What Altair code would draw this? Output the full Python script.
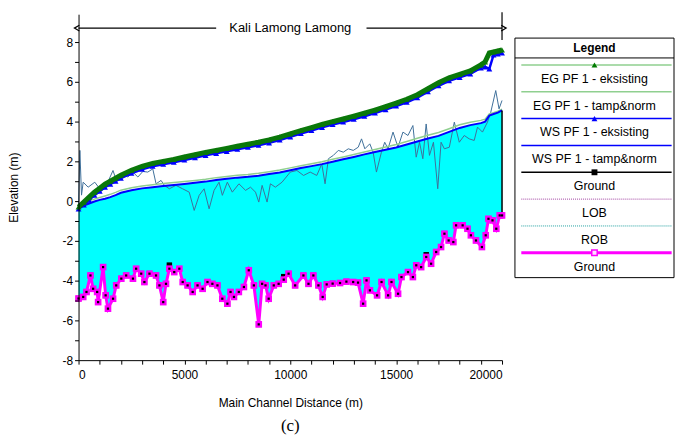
import altair as alt
import pandas as pd

FONT = "Liberation Sans"

# ---------------- data ----------------
dist = [0, 250, 500, 750, 1000, 1250, 1500, 1750, 2000, 2500, 3000, 3500, 4000, 4500,
        5000, 5500, 6000, 6500, 7000, 7500, 8000, 8500, 9000, 9500, 10000, 10500, 11000,
        11500, 12000, 12500, 13000, 13500, 14000, 14500, 15000, 15500, 16000, 16500,
        17000, 17500, 18000, 18500, 19000, 19200, 19400, 19600, 19800, 20000]
eg_eks = [-0.3, -0.05, 0.2, 0.45, 0.65, 0.85, 1.0, 1.15, 1.3, 1.55, 1.75, 1.9, 2.0, 2.1,
          2.22, 2.33, 2.45, 2.55, 2.65, 2.76, 2.86, 2.96, 3.08, 3.22, 3.38, 3.55, 3.7,
          3.86, 4.0, 4.13, 4.27, 4.42, 4.58, 4.75, 4.93, 5.12, 5.35, 5.65, 5.95, 6.2,
          6.37, 6.55, 6.85, 7.0, 7.45, 7.5, 7.55, 7.6]
ws_eks = [-0.4, -0.2, 0.05, 0.3, 0.5, 0.7, 0.85, 1.0, 1.15, 1.4, 1.6, 1.75, 1.85, 1.95,
          2.07, 2.18, 2.3, 2.4, 2.5, 2.61, 2.71, 2.81, 2.93, 3.07, 3.23, 3.4, 3.55, 3.71,
          3.85, 3.98, 4.12, 4.27, 4.43, 4.6, 4.78, 4.97, 5.2, 5.5, 5.8, 6.05, 6.22, 6.4,
          6.7, 6.75, 6.65, 7.35, 7.4, 7.45]
ws_tamp = [-0.3, -0.22, -0.12, -0.02, 0.06, 0.12, 0.2, 0.3, 0.42, 0.55, 0.64, 0.7, 0.76,
           0.81, 0.86, 0.92, 0.98, 1.06, 1.12, 1.18, 1.22, 1.28, 1.36, 1.44, 1.55, 1.66,
           1.76, 1.86, 1.98, 2.1, 2.22, 2.35, 2.47, 2.58, 2.7, 2.85, 3.0, 3.15, 3.28,
           3.48, 3.68, 3.82, 3.92, 4.0, 4.3, 4.38, 4.45, 4.56]
eg_tamp = [-0.25, -0.12, 0.0, 0.1, 0.18, 0.26, 0.34, 0.44, 0.55, 0.67, 0.76, 0.82, 0.88,
           0.93, 0.98, 1.04, 1.1, 1.18, 1.24, 1.3, 1.34, 1.4, 1.48, 1.56, 1.67, 1.78,
           1.88, 1.98, 2.1, 2.22, 2.34, 2.47, 2.6, 2.72, 2.85, 3.0, 3.16, 3.31, 3.45,
           3.64, 3.84, 3.97, 4.06, 4.12, 4.38, 4.45, 4.52, 4.62]

ground_dist = [0, 220, 375, 563, 690, 880, 925, 1160, 1280, 1390, 1630, 1780, 2020, 2250,
               2570, 2720, 2960, 3110, 3350, 3660, 3820, 4000, 4130, 4290, 4520, 4760,
               4920, 5150, 5390, 5620, 5860, 6090, 6320, 6560, 6790, 7030, 7180, 7340,
               7570, 7810, 8040, 8280, 8510, 8670, 8830, 8980, 9220, 9450, 9690, 9920,
               10230, 10620, 10860, 11090, 11330, 11530, 11720, 12000, 12350, 12650,
               12970, 13200, 13440, 13600, 13760, 14100, 14310, 14620, 14780, 15090,
               15250, 15560, 15790, 15950, 16180, 16420, 16650, 16890, 17120, 17280,
               17480, 17700, 17830, 18140, 18370, 18530, 18770, 19050, 19230, 19360,
               19550, 19730, 19890, 20000]
ground_tamp = [-4.9, -4.82, -4.57, -3.74, -4.41, -4.57, -5.08, -3.32, -4.74, -5.41, -4.91,
               -4.24, -3.9, -3.74, -3.9, -3.4, -3.65, -4.07, -3.65, -3.74, -4.24, -5.08,
               -4.16, -3.4, -3.57, -3.4, -4.07, -4.24, -4.57, -4.24, -4.41, -4.07, -4.16,
               -4.24, -4.91, -5.16, -4.57, -4.82, -4.57, -4.32, -3.48, -4.24, -6.2, -4.16,
               -4.24, -4.91, -4.24, -4.16, -3.95, -3.65, -4.24, -3.74, -4.16, -3.74, -4.24,
               -4.82, -4.19, -4.15, -4.12, -4.05, -4.07, -4.1, -5.16, -3.99, -4.49, -4.74,
               -4.07, -4.74, -4.07, -4.66, -3.82, -3.57, -3.82, -3.23, -3.32, -2.81, -3.15,
               -2.56, -2.31, -1.64, -1.98, -2.06, -1.22, -1.22, -1.39, -1.72, -1.98, -2.31,
               -1.72, -0.89, -0.97, -1.39, -0.72, -0.72]
# existing ground: same as above except where it shows above the magenta line
ground_eks_changes = {4290: -3.22, 9690: -3.8, 16420: -2.7}

bank_dist = [0, 63, 141, 219, 454, 767, 1002, 1315, 1628, 1784, 2097, 2332, 2567, 2802,
             3036, 3271, 3506, 3662, 3897, 4053, 4288, 4601, 4914, 5227, 5462, 5697, 5931,
             6166, 6401, 6636, 6792, 7027, 7262, 7575, 7888, 8122, 8357, 8513, 8670, 8904,
             9061, 9296, 9609, 10000, 10313, 10626, 10939, 11252, 11487, 11643, 11800,
             12034, 12269, 12504, 12739, 12974, 13208, 13365, 13521, 13756, 13913, 14069,
             14304, 14460, 14617, 14852, 15086, 15321, 15556, 15791, 15947, 16104, 16260,
             16417, 16573, 16761, 16964, 17121, 17277, 17512, 17747, 17982, 18216, 18451,
             18686, 18842, 19077, 19312, 19468, 19703, 19859, 20000]
bank_elev = [-0.2, 2.55, 0.3, 0.95, 0.7, 0.95, 0.62, 0.79, 1.54, 1.04, 1.37, 1.21, 1.46,
             1.21, 1.49, 1.46, 1.62, 0.87, 1.04, 0.79, 0.62, 0.79, 0.62, 0.45, -0.47, 0.29,
             0.62, -0.39, 0.54, 0.95, 0.29, 0.95, 0.45, 0.87, 0.54, 0.7, 0.45, -0.05, 0.79,
             -0.05, 0.87, 0.7, 0.95, 1.46, 1.54, 1.29, 1.46, 1.29, 1.87, 0.87, 2.13, 2.3,
             2.55, 2.46, 2.63, 2.55, 2.71, 3.13, 2.63, 2.88, 2.46, 1.46, 2.46, 2.96, 2.63,
             3.47, 2.71, 3.47, 3.3, 3.8, 2.21, 2.96, 2.13, 3.88, 2.3, 2.96, 0.62, 2.96,
             2.63, 2.71, 3.97, 2.96, 3.3, 3.13, 3.05, 3.72, 3.47, 3.97, 4.47, 5.56, 4.64,
             5.06]

x_ticks = list(range(0, 20001, 1000))
y_ticks = list(range(-8, 9))
x_domain = [0, 20000]
y_domain = [-8, 9.4]

reach_name = "Kali Lamong Lamong"
reach_start, reach_end = 0, 20000
reach_label_gap = [6500, 13600]
reach_level = 8.7
reach_bar = [8.1, 9.5]

legend_labels = ["EG  PF 1 - eksisting", "EG  PF 1 - tamp&norm", "WS  PF 1 - eksisting",
                 "WS  PF 1 - tamp&norm", "Ground", "LOB", "ROB", "Ground"]
legend_colors = ["#8fcf8f", "#8fcf8f", "#0000ff", "#0000ff", "#000000", "#a040a0",
                 "#20a0a0", "#ff00ff"]
legend_widths = [1.5, 1.5, 1.5, 1.5, 1.5, 1, 1, 3]
legend_dotted = [False, False, False, False, False, True, True, False]
legend_marker = ["triangle-up", "", "triangle-up", "", "square", "", "", "square"]
legend_marker_color = ["#007a00", "", "#0000ff", "", "#000000", "", "", "#ff00ff"]

# ---------------- tables ----------------
main_df = pd.DataFrame({"d": dist, "eg_eks": eg_eks, "ws_eks": ws_eks,
                        "ws_tamp": ws_tamp, "eg_tamp": eg_tamp})
ground_df = pd.DataFrame({"d": ground_dist, "g": ground_tamp})
ground_df["g_eks"] = [ground_eks_changes.get(d, g) for d, g in zip(ground_dist, ground_tamp)]
bank_df = pd.DataFrame({"d": bank_dist, "e": bank_elev})
end_df = pd.DataFrame({"d": [dist[-1]], "top": [ws_tamp[-1]], "bot": [ground_tamp[-1]]})

xs = alt.Scale(domain=x_domain, nice=False, zero=False)
ys = alt.Scale(domain=y_domain, nice=False, zero=False)

x_axis = alt.Axis(values=x_ticks, labelExpr="datum.value % 5000 == 0 ? '' + datum.value : ''",
                  title="Main Channel Distance (m)", grid=False, tickSize=4, labelPadding=5,
                  titlePadding=18, labelFont=FONT, labelFontSize=12, titleFont=FONT,
                  titleFontSize=12, titleFontWeight="normal", labelColor="black",
                  titleColor="black", domainColor="black", tickColor="black", zindex=1)
y_axis = alt.Axis(values=y_ticks, labelExpr="datum.value % 2 == 0 ? '' + datum.value : ''",
                  title="Elevation (m)", grid=False, tickSize=4, labelPadding=2,
                  titlePadding=42, labelFont=FONT, labelFontSize=12, titleFont=FONT,
                  titleFontSize=12, titleFontWeight="normal", labelColor="black",
                  titleColor="black", domainColor="black", tickColor="black", zindex=1)


def X(f="d"):
    return alt.X(f, type="quantitative", scale=xs, axis=x_axis)


def Y(f):
    return alt.Y(f, type="quantitative", scale=ys, axis=y_axis)


base = alt.Chart(main_df)
water = base.mark_area(color="#00ffff", opacity=1).encode(x=X(), y=Y("ws_tamp"), y2=alt.datum(y_domain[0]))
below = alt.Chart(ground_df).mark_area(fill="white", stroke="white", strokeWidth=1.5, opacity=1).encode(
    x=X(), y=Y("g"), y2=alt.datum(y_domain[0]))
bank = alt.Chart(bank_df).mark_line(color="#40709a", strokeWidth=1).encode(x=X(), y=Y("e"))
egt = base.mark_line(color="#8fcf8f", strokeWidth=1.5).encode(x=X(), y=Y("eg_tamp"))
wst = base.mark_line(color="#0000ff", strokeWidth=2).encode(x=X(), y=Y("ws_tamp"))
endline = alt.Chart(end_df).mark_rule(color="black", strokeWidth=1.5).encode(
    x=X(), y=Y("top"), y2="bot")
g_eks_line = alt.Chart(ground_df).mark_line(color="black", strokeWidth=1).encode(x=X(), y=Y("g_eks"))
g_eks_pts = alt.Chart(ground_df).mark_square(color="black", size=30, opacity=1).encode(x=X(), y=Y("g_eks"))
g_line = alt.Chart(ground_df).mark_line(color="#ff00ff", strokeWidth=3).encode(x=X(), y=Y("g"))
g_pts = alt.Chart(ground_df).mark_square(color="#ff00ff", size=45, opacity=1).encode(x=X(), y=Y("g"))
g_dots = alt.Chart(ground_df).mark_square(color="black", size=5, opacity=1).encode(x=X(), y=Y("g"))
wse_line = base.mark_line(color="#0000ff", strokeWidth=2.5).encode(x=X(), y=Y("ws_eks"))
wse_pts = base.mark_point(shape="triangle-up", filled=True, color="#0000ff", size=35, opacity=1).encode(
    x=X(), y=Y("ws_eks"))
ege_line = base.mark_line(color="#0a780a", strokeWidth=5).encode(x=X(), y=Y("eg_eks"))
ege_pts = base.mark_point(shape="triangle-up", filled=True, color="#0a780a", size=35, opacity=1).encode(
    x=X(), y=Y("eg_eks"))

# reach annotation
seg_df = pd.DataFrame({"a": [reach_start, reach_label_gap[1]], "b": [reach_label_gap[0], reach_end],
                       "lv": [reach_level, reach_level]})
segs = alt.Chart(seg_df).mark_rule(color="black", strokeWidth=1.2).encode(x=X("a"), x2="b", y=Y("lv"))
heads_df = pd.DataFrame({"d": [reach_start, reach_end], "lv": [reach_level, reach_level],
                         "s": ["M0.2,-0.7L-1,0L0.2,0.7", "M-0.2,-0.7L1,0L-0.2,0.7"]})
heads = alt.Chart(heads_df).mark_point(filled=False, color="black", strokeWidth=1.2, size=70,
                                       opacity=1).encode(
    x=X(), y=Y("lv"), shape=alt.Shape("s:N", scale=None, legend=None))
txt_df = pd.DataFrame({"d": [(reach_start + reach_end) / 2], "lv": [reach_level], "t": [reach_name]})
txt = alt.Chart(txt_df).mark_text(font=FONT, fontSize=13, color="black").encode(
    x=X(), y=Y("lv"), text="t")
bar_df = pd.DataFrame({"d": [reach_end], "a": [reach_bar[0]], "b": [reach_bar[1]]})
bar = alt.Chart(bar_df).mark_rule(color="black", strokeWidth=1.2).encode(x=X(), y=Y("a"), y2="b")

main = alt.layer(water, below, bank, egt, wst, endline, g_eks_line, g_eks_pts, g_line, g_pts,
                 g_dots, wse_line, wse_pts, ege_line, ege_pts, segs, heads, txt, bar).properties(
    width=426, height=348,
    title=alt.TitleParams("(c)", orient="bottom", font="Liberation Serif", fontSize=17,
                          fontWeight="normal", color="black", offset=9, frame="group",
                          anchor="middle"))

# ---------------- legend panel ----------------
L_TOP, L_TITLE, L_SEP, L_BOTTOM = 1.78, 2.52, 3.26, 19.63
L_SYM0, L_LAB0, L_STEP = 3.78, 4.81, 2.0
L_DOMAIN = [0, 25.78]
lx = alt.Scale(domain=[0, 1], nice=False, zero=False)
ly = alt.Scale(domain=L_DOMAIN, nice=False, zero=False, reverse=True)

leg = pd.DataFrame({
    "label": legend_labels, "color": legend_colors, "w": legend_widths,
    "dotted": legend_dotted, "marker": legend_marker, "mcolor": legend_marker_color,
})
leg["ysym"] = [L_SYM0 + L_STEP * i for i in range(len(leg))]
leg["ylab"] = [L_LAB0 + L_STEP * i for i in range(len(leg))]
leg["x0"] = 0.04
leg["x1"] = 0.985
leg["xm"] = 0.5


def LX(f):
    return alt.X(f, type="quantitative", scale=lx, axis=None)


def LY(f):
    return alt.Y(f, type="quantitative", scale=ly, axis=None)


box_df = pd.DataFrame({"a": [0], "b": [1], "t": [L_TOP], "u": [L_BOTTOM], "s": [L_SEP],
                       "ty": [L_TITLE], "xm": [0.5], "title": ["Legend"]})
box = alt.Chart(box_df).mark_rect(fill="white", stroke="black", strokeWidth=1).encode(
    x=LX("a"), x2="b", y=LY("t"), y2="u")
sep = alt.Chart(box_df).mark_rule(color="black", strokeWidth=1).encode(x=LX("a"), x2="b", y=LY("s"))
ltitle = alt.Chart(box_df).mark_text(font=FONT, fontSize=12, fontWeight="bold", color="black").encode(
    x=LX("xm"), y=LY("ty"), text="title")

solid = alt.Chart(leg[~leg["dotted"]]).mark_rule().encode(
    x=LX("x0"), x2="x1", y=LY("ysym"),
    color=alt.Color("color:N", scale=None), strokeWidth=alt.StrokeWidth("w:Q", scale=None))
dotted = alt.Chart(leg[leg["dotted"]]).mark_rule(strokeDash=[1, 1]).encode(
    x=LX("x0"), x2="x1", y=LY("ysym"),
    color=alt.Color("color:N", scale=None), strokeWidth=alt.StrokeWidth("w:Q", scale=None))
tri = alt.Chart(leg[leg["marker"] == "triangle-up"]).mark_point(
    shape="triangle-up", filled=True, size=35, opacity=1).encode(
    x=LX("xm"), y=LY("ysym"), color=alt.Color("mcolor:N", scale=None))
sq_black = alt.Chart(leg[(leg["marker"] == "square") & (leg["mcolor"] == "#000000")]).mark_square(
    size=35, opacity=1).encode(x=LX("xm"), y=LY("ysym"), color=alt.Color("mcolor:N", scale=None))
sq_mag = alt.Chart(leg[(leg["marker"] == "square") & (leg["mcolor"] == "#ff00ff")]).mark_square(
    size=30, fill="#ffe0ff", strokeWidth=1.5, opacity=1).encode(
    x=LX("xm"), y=LY("ysym"), stroke=alt.Stroke("mcolor:N", scale=None))
labels = alt.Chart(leg).mark_text(font=FONT, fontSize=12.5, color="black").encode(
    x=LX("xm"), y=LY("ylab"), text="label")

legend_panel = alt.layer(box, sep, ltitle, solid, dotted, tri, sq_black, sq_mag, labels).properties(
    width=160, height=348)

chart = alt.hconcat(main, legend_panel, spacing=2).properties(
    padding={"left": 7, "top": 10, "right": 0, "bottom": 0}
).configure_view(stroke=None)

chart.save("out.html", embed_options={"renderer": "svg", "actions": False})
